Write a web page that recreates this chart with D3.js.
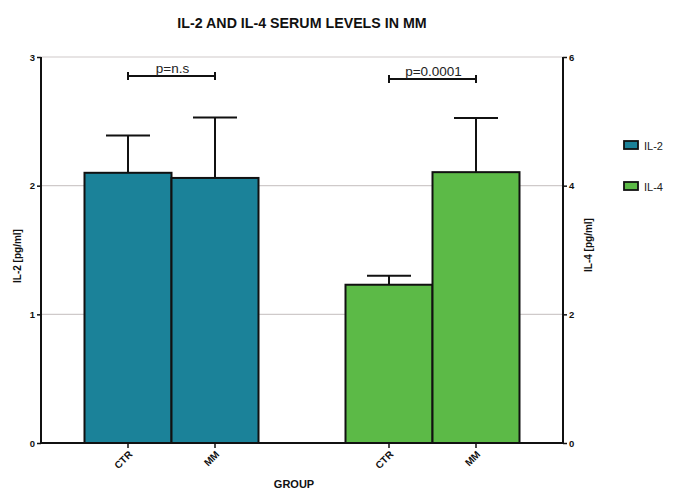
<!DOCTYPE html>
<html>
<head>
<meta charset="utf-8">
<script src="https://cdn.jsdelivr.net/npm/d3@7"></script>
<style>
  html, body { margin: 0; padding: 0; background: #fff; }
  svg { display: block; font-family: "Liberation Sans", Arial, sans-serif; }
</style>
</head>
<body>
<svg id="chart" width="673" height="489"></svg>
<script>
// Serum cytokine levels (mean with upper SD whisker) per group
const series = ["IL-2", "IL-4"];
const categories = ["CTR", "MM"];
const il2Means = [2.10, 2.06];
const il2Upper = [2.39, 2.53];
const il4Means = [2.46, 4.21];
const il4Upper = [2.60, 5.05];
const leftTicks = [0, 1, 2, 3];
const rightTicks = [0, 2, 4, 6];
const pLabels = ["p=n.s", "p=0.0001"];
const colors = { "IL-2": "#1b8299", "IL-4": "#5cba47" };

const svg = d3.select("#chart");
const plot = { left: 41, right: 563, top: 57, bottom: 443 };

const yLeft = d3.scaleLinear().domain([0, 3]).range([plot.bottom, plot.top]);
const yRight = d3.scaleLinear().domain([0, 6]).range([plot.bottom, plot.top]);

const xOuter = d3.scaleBand().domain(series)
  .range([plot.left, plot.right]).paddingInner(1 / 3).paddingOuter(1 / 6);
const xInner = d3.scaleBand().domain(categories).range([0, xOuter.bandwidth()]);

const data = [];
series.forEach(s => {
  const means = s === "IL-2" ? il2Means : il4Means;
  const upper = s === "IL-2" ? il2Upper : il4Upper;
  const y = s === "IL-2" ? yLeft : yRight;
  categories.forEach((c, i) => data.push({ series: s, cat: c, mean: means[i], upper: upper[i], y }));
});
const barX = d => xOuter(d.series) + xInner(d.cat);
const barMid = d => barX(d) + xInner.bandwidth() / 2;

// Title (slightly condensed bold face)
svg.append("text")
  .attr("transform", "translate(302,28) scale(0.95,1)")
  .attr("text-anchor", "middle")
  .attr("font-size", 15).attr("font-weight", "bold").attr("fill", "#111")
  .text("IL-2 AND IL-4 SERUM LEVELS IN MM");

// Horizontal grid lines
svg.append("g").selectAll("line").data(leftTicks.filter(t => t > 0)).join("line")
  .attr("x1", plot.left).attr("x2", plot.right)
  .attr("y1", d => yLeft(d)).attr("y2", d => yLeft(d))
  .attr("stroke", "#cfcaca").attr("stroke-width", 1.2);

// Error whiskers (drawn beneath bars)
const err = svg.append("g").attr("stroke", "#111").attr("stroke-width", 2);
err.selectAll("line.v").data(data).join("line").attr("class", "v")
  .attr("x1", barMid).attr("x2", barMid)
  .attr("y1", d => d.y(d.mean)).attr("y2", d => d.y(d.upper));
err.selectAll("line.cap").data(data).join("line").attr("class", "cap")
  .attr("x1", d => barMid(d) - 22).attr("x2", d => barMid(d) + 22)
  .attr("y1", d => d.y(d.upper)).attr("y2", d => d.y(d.upper));

// Bars
svg.append("g").selectAll("rect").data(data).join("rect")
  .attr("x", barX)
  .attr("width", xInner.bandwidth())
  .attr("y", d => d.y(d.mean))
  .attr("height", d => plot.bottom - d.y(d.mean))
  .attr("fill", d => colors[d.series])
  .attr("stroke", "#111").attr("stroke-width", 2);

// Left axis
const axL = svg.append("g").attr("transform", `translate(${plot.left},0)`)
  .call(d3.axisLeft(yLeft).tickValues(leftTicks).tickSize(4).tickPadding(2).tickFormat(d3.format("d")));
// Right axis
const axR = svg.append("g").attr("transform", `translate(${plot.right},0)`)
  .call(d3.axisRight(yRight).tickValues(rightTicks).tickSize(4).tickPadding(2).tickFormat(d3.format("d")));
[axL, axR].forEach(ax => {
  ax.select(".domain").attr("stroke", "#111").attr("stroke-width", 2);
  ax.selectAll(".tick line").attr("stroke", "#111").attr("stroke-width", 1.5);
  ax.selectAll(".tick text").attr("font-size", 9.5).attr("font-weight", "bold")
    .attr("font-family", "Liberation Sans, Arial, sans-serif").attr("fill", "#111");
});
axL.select(".domain").attr("d", `M0,${plot.top}V${plot.bottom}`);
axR.select(".domain").attr("d", `M0,${plot.top}V${plot.bottom}`);

// Baseline and category ticks
svg.append("line")
  .attr("x1", plot.left).attr("x2", plot.right)
  .attr("y1", plot.bottom).attr("y2", plot.bottom)
  .attr("stroke", "#111").attr("stroke-width", 2);
const xt = svg.append("g").selectAll("g").data(data).join("g")
  .attr("transform", d => `translate(${barMid(d)},${plot.bottom})`);
xt.append("line").attr("y1", 0).attr("y2", 5).attr("stroke", "#111").attr("stroke-width", 1.5);
xt.append("text")
  .attr("transform", "translate(5,12) rotate(-45)")
  .attr("text-anchor", "end")
  .attr("font-size", 10).attr("font-weight", "bold").attr("fill", "#111")
  .text(d => d.cat);

// Axis titles
svg.append("text")
  .attr("transform", `translate(21,256) rotate(-90)`)
  .attr("text-anchor", "middle")
  .attr("font-size", 10).attr("font-weight", "bold").attr("fill", "#111")
  .text("IL-2 [pg/ml]");
svg.append("text")
  .attr("transform", `translate(592,245) rotate(-90)`)
  .attr("text-anchor", "middle")
  .attr("font-size", 10).attr("font-weight", "bold").attr("fill", "#111")
  .text("IL-4 [pg/ml]");
svg.append("text")
  .attr("x", 294).attr("y", 488)
  .attr("text-anchor", "middle")
  .attr("font-size", 11).attr("font-weight", "bold").attr("fill", "#111")
  .text("GROUP");

// Significance brackets
const brackets = series.map((s, i) => ({
  x1: xOuter(s) + xInner.bandwidth() / 2,
  x2: xOuter(s) + xInner.bandwidth() * 1.5,
  y: i === 0 ? 76 : 79,
  label: pLabels[i]
}));
const br = svg.append("g").selectAll("g").data(brackets).join("g");
br.append("path")
  .attr("d", d => `M${d.x1},${d.y - 4}V${d.y + 4}M${d.x1},${d.y}H${d.x2}M${d.x2},${d.y - 4}V${d.y + 4}`)
  .attr("fill", "none").attr("stroke", "#111").attr("stroke-width", 2);
br.append("text")
  .attr("x", d => (d.x1 + d.x2) / 2 + 1).attr("y", d => d.y - 3)
  .attr("text-anchor", "middle")
  .attr("font-size", 13.5).attr("fill", "#222")
  .text(d => d.label);

// Legend
const lg = svg.append("g").selectAll("g").data(series).join("g")
  .attr("transform", (d, i) => `translate(624,${141 + i * 41})`);
lg.append("rect").attr("width", 14).attr("height", 8)
  .attr("fill", d => colors[d]).attr("stroke", "#111").attr("stroke-width", 1.8);
lg.append("text").attr("x", 20).attr("y", 8.5)
  .attr("font-size", 11).attr("fill", "#222")
  .text(d => d);
</script>
</body>
</html>
